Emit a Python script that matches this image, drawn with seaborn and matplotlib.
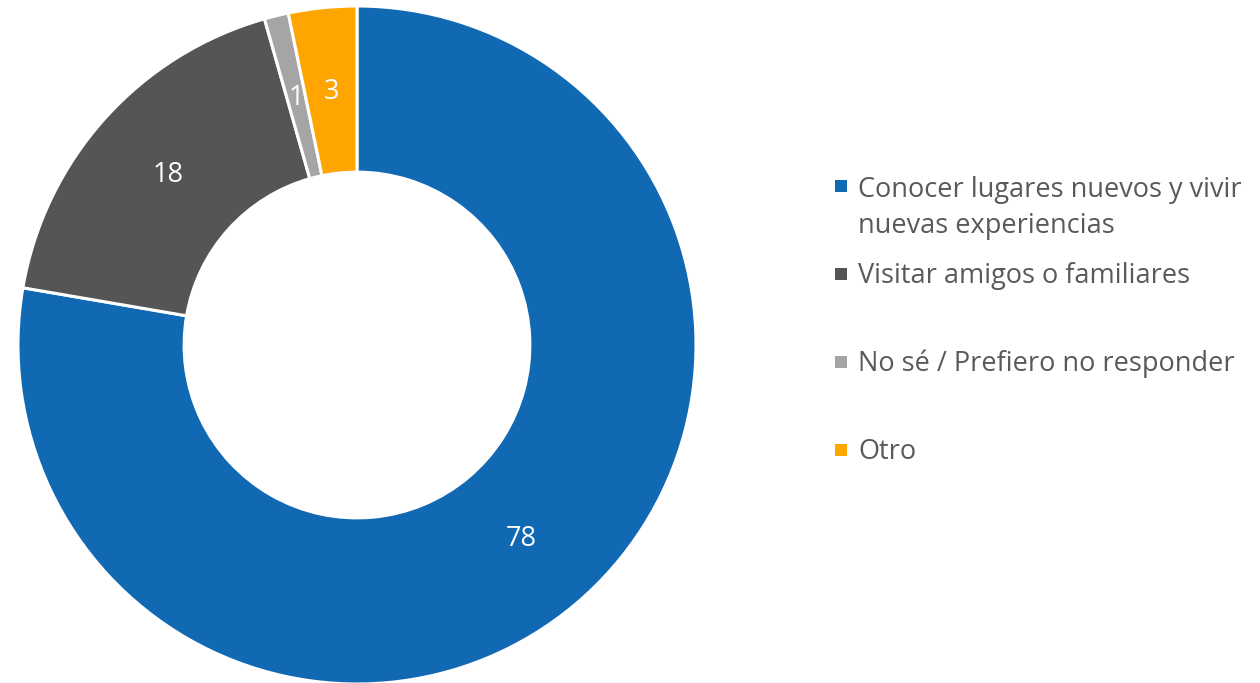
import matplotlib
matplotlib.use("Agg")
import matplotlib.pyplot as plt
import seaborn as sns
from matplotlib.patches import Rectangle

categories = ["Conocer lugares nuevos y vivir\nnuevas experiencias",
              "Visitar amigos o familiares",
              "No sé / Prefiero no responder",
              "Otro"]
values = [77.7, 17.9, 1.15, 3.25]
colors = ["#1169B3", "#555555", "#A5A5A5", "#FFA500"]

sns.set_theme(style="white")
plt.rcParams['font.family'] = ['Open Sans', 'DejaVu Sans']

W, H = 1260, 683
fig = plt.figure(figsize=(W / 100, H / 100), dpi=100)
cx, cy, R = 357, 345, 339
ax = fig.add_axes([(cx - R) / W, (H - cy - R) / H, 2 * R / W, 2 * R / H])
wedges, texts = ax.pie(values, colors=colors, startangle=90, counterclock=False,
                       radius=1.0, labels=[f"{v:.0f}" for v in values], labeldistance=0.75,
                       wedgeprops=dict(width=0.49, edgecolor="white", linewidth=2.2),
                       textprops=dict(color="white", fontsize=19.5))
for t in texts:
    t.set_ha("center")
    t.set_va("center")
ax.set_xlim(-1, 1)
ax.set_ylim(-1, 1)
ax.set_aspect("equal")
ax.axis("off")

# legend
ys = [186, 274, 362, 450]
text_ys = [208, 276, 364, 452]
for lab, col, y, ty in zip(categories, colors, ys, text_ys):
    fig.patches.append(Rectangle((835 / W, (H - y - 6) / H), 12 / W, 12 / H,
                                 transform=fig.transFigure, facecolor=col, edgecolor="none"))
    fig.text(858 / W, (H - ty) / H, lab, ha="left", va="center",
             fontsize=19.5, color="#595959", linespacing=1.4)

fig.savefig("out.png", dpi=100)
